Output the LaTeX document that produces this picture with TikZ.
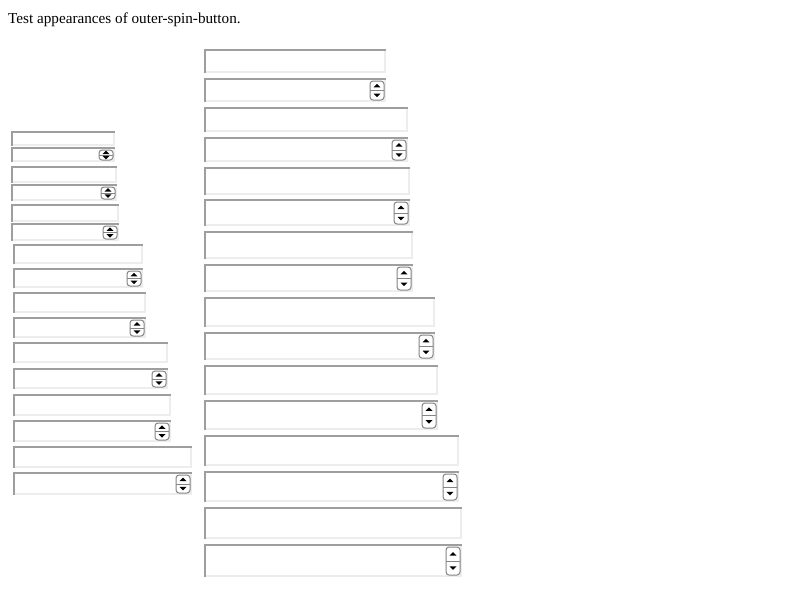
\documentclass[tikz,border=0pt]{standalone}
\usepackage{fontspec}
\setmainfont{Liberation Serif}
\usetikzlibrary{calc}
\tikzset{
  fieldbox/.style={fill=white, inner sep=0pt, outer sep=0pt, anchor=north west},
  darkedge/.style={draw=black!38, line width=2pt},
  lightedge/.style={draw=black!7, line width=2pt},
  spinbox/.style={draw=black!48, fill=white, line width=1pt, rounded corners=3pt, inner sep=0pt, outer sep=0pt, anchor=north east, minimum width=14pt},
  spinline/.style={draw=black!48, line width=0.8pt},
  arrowfill/.style={fill=black},
  titletext/.style={font=\fontsize{15.2pt}{18pt}\selectfont, inner sep=0pt, anchor=base west}
}
% name, x1, y1, x2, y2
\newcommand\inbox[5]{%
  \node[fieldbox, minimum width={#4pt-#2pt}, minimum height={#5pt-#3pt}] (#1) at (#2,#3) {};
  \draw[lightedge] ($(#1.south west)+(2,-1)$) -- ($(#1.south east)+(-1,-1)$) -- ($(#1.north east)+(-1,2)$);
  \draw[darkedge] ($(#1.south west)+(1,0)$) -- ($(#1.north west)+(1,1)$) -- ($(#1.north east)+(0,1)$);
}
% name, x1, y1, x2, y2 of the field; draws field with a spinner
\newcommand\spinfield[5]{%
  \inbox{#1}{#2}{#3}{#4}{#5}%
  \node[spinbox, minimum height={#5pt-#3pt-5pt}] (#1s) at ($(#1.north east)+(-2,3)$) {};
  \draw[spinline] (#1s.west) -- (#1s.east);
  \coordinate (#1u) at ($(#1s.north)!0.5!(#1s.center)$);
  \coordinate (#1d) at ($(#1s.south)!0.5!(#1s.center)$);
  \fill[arrowfill] ($(#1u)+(-3.5,1.7)$) -- ($(#1u)+(3.5,1.7)$) -- ($(#1u)+(0,-1.9)$) -- cycle;
  \fill[arrowfill] ($(#1d)+(-3.5,-1.7)$) -- ($(#1d)+(3.5,-1.7)$) -- ($(#1d)+(0,1.9)$) -- cycle;
}
\begin{document}
\begin{tikzpicture}[x=1pt,y=-1pt]
\useasboundingbox[fill=white] (0,0) rectangle (800,600);
\node[titletext] (title) at (8,23) {Test appearances of outer-spin-button.};
% left column
\inbox{l1}{11}{131}{115}{146}
\spinfield{l2}{11}{147}{115}{162}
\inbox{l3}{11}{166}{117}{183}
\spinfield{l4}{11}{184}{117}{201}
\inbox{l5}{11}{204}{119}{222}
\spinfield{l6}{11}{223}{119}{241}
\inbox{l7}{13}{244}{143}{264}
\spinfield{l8}{13}{268}{143}{288}
\inbox{l9}{13}{292}{146}{313}
\spinfield{l10}{13}{317}{146}{338}
\inbox{l11}{13}{342}{168}{363}
\spinfield{l12}{13}{368}{168}{389}
\inbox{l13}{13}{394}{171}{416}
\spinfield{l14}{13}{420}{171}{442}
\inbox{l15}{13}{446}{192}{468}
\spinfield{l16}{13}{472}{192}{495}
% right column
\inbox{r1}{204}{49}{386}{73}
\spinfield{r2}{204}{78}{386}{102}
\inbox{r3}{204}{107}{408}{132}
\spinfield{r4}{204}{137}{408}{162}
\inbox{r5}{204}{167}{410}{195}
\spinfield{r6}{204}{199}{410}{226}
\inbox{r7}{204}{231}{413}{259}
\spinfield{r8}{204}{264}{413}{292}
\inbox{r9}{204}{297}{435}{327}
\spinfield{r10}{204}{332}{435}{360}
\inbox{r11}{204}{365}{438}{395}
\spinfield{r12}{204}{400}{438}{430}
\inbox{r13}{204}{435}{459}{466}
\spinfield{r14}{204}{471}{459}{502}
\inbox{r15}{204}{507}{462}{539}
\spinfield{r16}{204}{544}{462}{577}
\end{tikzpicture}
\end{document}
